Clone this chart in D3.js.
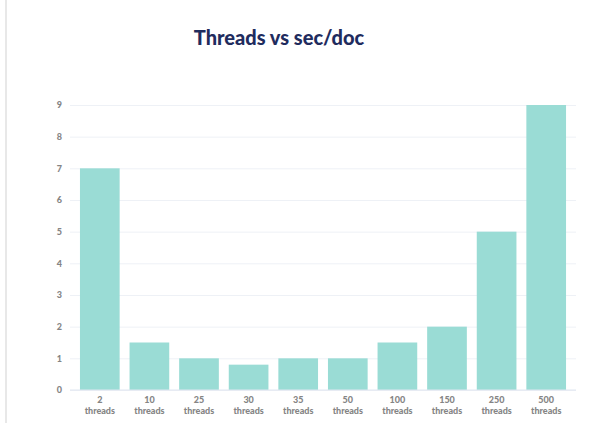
<!DOCTYPE html>
<meta charset="utf-8">
<style>
body { margin: 0; background: #fff; }
.tick text { fill: #858585; font-family: "Lato", sans-serif; font-weight: 900; font-size: 9px; }
</style>
<svg></svg>
<script src="https://d3js.org/d3.v7.min.js"></script>
<script>
var categories = ["2", "10", "25", "30", "35", "50", "100", "150", "250", "500"];
var secPerDoc = [7, 1.5, 1, 0.8, 1, 1, 1.5, 2, 5, 9];
var yTicks = [0, 1, 2, 3, 4, 5, 6, 7, 8, 9];

var width = 606, height = 423;
var svg = d3.select("svg").attr("width", width).attr("height", height);

// left border line
svg.append("rect")
    .attr("x", 5).attr("y", 0)
    .attr("width", 2).attr("height", height)
    .attr("fill", "#e8e8e8");

svg.append("text")
    .attr("x", 279).attr("y", 45)
    .attr("text-anchor", "middle")
    .attr("font-family", "Lato, sans-serif")
    .attr("font-weight", 900)
    .attr("font-size", "20px")
    .attr("fill", "#1f2c5e")
    .text("Threads vs sec/doc");

var x = d3.scaleBand().domain(categories).range([75, 571]).paddingInner(0.2).paddingOuter(0.1),
    y = d3.scaleLinear().domain([0, 9]).range([390, 105]);

// grid + y labels
var gy = svg.append("g")
    .attr("transform", "translate(70,0)")
    .call(d3.axisLeft(y).tickValues(yTicks).tickSize(-506).tickPadding(8));
gy.select(".domain").remove();
gy.selectAll(".tick line").attr("stroke", "#eef1f6");

svg.selectAll(".bar")
    .data(secPerDoc)
  .enter().append("rect")
    .attr("class", "bar")
    .attr("fill", "#9adcd5")
    .attr("x", function(d, i) { return x(categories[i]); })
    .attr("y", function(d) { return y(d); })
    .attr("width", x.bandwidth())
    .attr("height", function(d) { return y(0) - y(d); });

// baseline on top
svg.append("line")
    .attr("x1", 70).attr("x2", 576)
    .attr("y1", y(0)).attr("y2", y(0))
    .attr("stroke", "#dfe6f0");

var gx = svg.append("g")
    .attr("transform", "translate(0," + y(0) + ")")
    .call(d3.axisBottom(x).tickSize(0).tickPadding(0));
gx.select(".domain").remove();
gx.selectAll(".tick text").remove();
gx.selectAll(".tick").each(function(d) {
  var t = d3.select(this);
  t.append("text").attr("x", 0).attr("y", 12.5).attr("text-anchor", "middle").text(d);
  t.append("text").attr("x", 0).attr("y", 23.5).attr("text-anchor", "middle").text("threads");
});
</script>
